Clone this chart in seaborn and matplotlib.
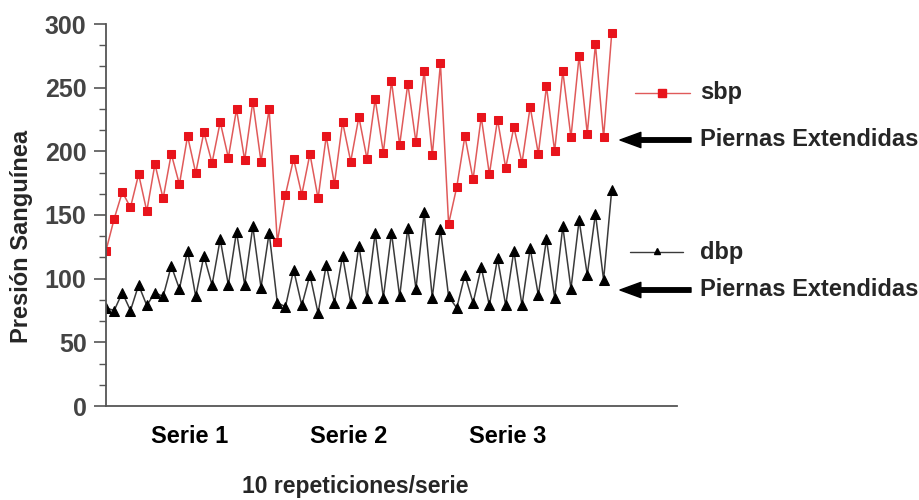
import numpy as np
import pandas as pd
import matplotlib
matplotlib.use("Agg")
import matplotlib.pyplot as plt
from matplotlib.ticker import MultipleLocator
from matplotlib.lines import Line2D
import seaborn as sns

# systolic / diastolic blood pressure, 3 series x 10 repetitions
sbp = [122, 147, 168, 156, 182, 153, 190, 163, 198, 174, 212, 183, 215, 191, 223, 195,
       233, 193, 239, 192, 233, 129, 166, 194, 166, 198, 163, 212, 174, 223, 192, 227,
       194, 241, 199, 255, 205, 253, 207, 263, 197, 269, 143, 172, 212, 178, 227, 182,
       225, 187, 219, 191, 235, 198, 251, 200, 263, 211, 275, 214, 284, 211, 293]
dbp = [77, 75, 89, 75, 95, 79, 89, 86, 110, 92, 122, 86, 118, 95, 131, 95,
       137, 95, 141, 93, 136, 81, 78, 107, 79, 103, 73, 111, 81, 118, 81, 126,
       85, 136, 85, 136, 86, 140, 92, 152, 85, 139, 86, 77, 103, 81, 109, 79,
       116, 79, 122, 79, 124, 87, 131, 85, 141, 92, 146, 103, 151, 99, 170]
serie_labels = ["Serie 1", "Serie 2", "Serie 3"]
y_ticks = [0, 50, 100, 150, 200, 250, 300]

df = pd.DataFrame({"rep": np.arange(len(sbp)), "sbp": sbp, "dbp": dbp})

sns.set_style("white")
plt.rcParams["font.family"] = ["Liberation Sans", "DejaVu Sans"]
plt.rcParams["font.weight"] = "bold"

fig = plt.figure(figsize=(9.2, 5), dpi=100)
ax = fig.add_axes([106 / 920, 94 / 500, 571 / 920, 382 / 500])

red = "#e8141c"
sns.lineplot(data=df, x="rep", y="sbp", ax=ax, color="#e05a5a", lw=1.1,
             marker="s", markersize=6, markerfacecolor=red, markeredgecolor=red)
sns.lineplot(data=df, x="rep", y="dbp", ax=ax, color="#3a3a3a", lw=1.1,
             marker="^", markersize=6.5, markerfacecolor="black", markeredgecolor="black")

ax.set_xlim(0, 70)
ax.set_ylim(0, 300)
ax.set_yticks(y_ticks)
ax.yaxis.set_minor_locator(MultipleLocator(50 / 3))
ax.set_xticks([10.3, 29.7, 49.3])
ax.set_xticklabels(serie_labels)
ax.set_xlabel("")
ax.set_ylabel("")

for s in ["top", "right"]:
    ax.spines[s].set_visible(False)
for s in ["left", "bottom"]:
    ax.spines[s].set_color("#555555")
    ax.spines[s].set_linewidth(1.3)

ax.tick_params(axis="y", which="major", direction="out", length=9, width=1.2,
               color="#555555", labelsize=18, labelcolor="#444444", pad=5, left=True)
ax.tick_params(axis="y", which="minor", direction="out", length=5, width=1.0,
               color="#555555", left=True)
ax.tick_params(axis="x", length=0, labelsize=17, pad=14, labelcolor="black")
for lab in ax.get_xticklabels() + ax.get_yticklabels():
    lab.set_fontweight("bold")

fig.text(22 / 920, 1 - 236 / 500, "Presión Sanguínea", rotation=90, ha="center",
         va="center", fontsize=17, fontweight="bold")
fig.text(355 / 920, 1 - 487 / 500, "10 repeticiones/serie", ha="center",
         va="center", fontsize=16.5, fontweight="bold")

# legend entries and arrows drawn at the right side
tr = fig.dpi_scale_trans
fig.add_artist(Line2D([6.35, 6.90], [4.07, 4.07], transform=tr, color="#e05a5a", lw=1.0))
fig.add_artist(Line2D([6.62], [4.07], transform=tr, marker="s", markersize=6,
                      color=red, lw=0))
fig.text(7.00, 4.07, "sbp", transform=tr, ha="left", va="center", fontsize=17,
         fontweight="bold")
fig.add_artist(Line2D([6.30, 6.83], [2.48, 2.48], transform=tr, color="#3a3a3a", lw=1.0))
fig.add_artist(Line2D([6.57], [2.49], transform=tr, marker="^", markersize=5,
                      color="black", lw=0))
fig.text(7.00, 2.48, "dbp", transform=tr, ha="left", va="center", fontsize=17,
         fontweight="bold")

for ya in [3.60, 2.10]:
    ax.annotate("", xy=(6.20, ya), xytext=(6.91, ya), xycoords=tr, textcoords=tr,
                arrowprops=dict(arrowstyle="simple,head_length=0.75,head_width=0.55,tail_width=0.16",
                                mutation_scale=20, color="black", shrinkA=0, shrinkB=0),
                annotation_clip=False)
    fig.text(7.00, ya, "Piernas Extendidas", transform=tr, ha="left", va="center",
             fontsize=17, fontweight="bold")

fig.savefig("out.png", dpi=100)
